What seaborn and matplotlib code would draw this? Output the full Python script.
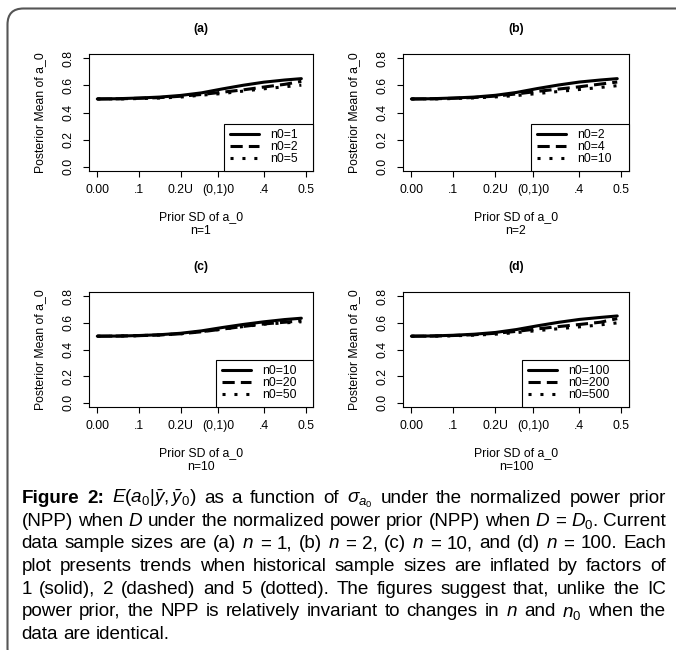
import matplotlib
matplotlib.use("Agg")
import matplotlib.pyplot as plt
import numpy as np
import pandas as pd
import seaborn as sns
from matplotlib.patches import FancyBboxPatch
from matplotlib.transforms import IdentityTransform

# ---------------- data ----------------
prior_sd = [0.00, 0.05, 0.10, 0.15, 0.20, 0.25, 0.30, 0.35, 0.40, 0.45, 0.49]

a_n0_1 = [0.500, 0.502, 0.507, 0.514, 0.526, 0.545, 0.574, 0.601, 0.624, 0.640, 0.650]
a_n0_2 = [0.500, 0.501, 0.505, 0.510, 0.520, 0.533, 0.550, 0.567, 0.588, 0.608, 0.630]
a_n0_5 = [0.500, 0.500, 0.503, 0.507, 0.514, 0.528, 0.540, 0.558, 0.575, 0.590, 0.602]

b_n0_2 = [0.500, 0.502, 0.507, 0.514, 0.527, 0.548, 0.577, 0.603, 0.625, 0.640, 0.650]
b_n0_4 = [0.500, 0.501, 0.505, 0.511, 0.521, 0.537, 0.556, 0.573, 0.590, 0.610, 0.625]
b_n0_10 = [0.500, 0.500, 0.503, 0.508, 0.515, 0.525, 0.540, 0.555, 0.570, 0.585, 0.598]

c_n0_10 = [0.500, 0.501, 0.505, 0.511, 0.522, 0.540, 0.565, 0.588, 0.608, 0.625, 0.635]
c_n0_20 = [0.500, 0.501, 0.504, 0.509, 0.518, 0.533, 0.553, 0.573, 0.592, 0.605, 0.615]
c_n0_50 = [0.500, 0.501, 0.504, 0.509, 0.518, 0.534, 0.553, 0.572, 0.590, 0.600, 0.608]

d_n0_100 = [0.500, 0.502, 0.507, 0.515, 0.528, 0.550, 0.578, 0.604, 0.626, 0.641, 0.652]
d_n0_200 = [0.500, 0.501, 0.505, 0.511, 0.522, 0.536, 0.555, 0.572, 0.588, 0.605, 0.632]
d_n0_500 = [0.500, 0.500, 0.503, 0.508, 0.515, 0.527, 0.542, 0.556, 0.570, 0.585, 0.600]

panel_titles = ["(a)", "(b)", "(c)", "(d)"]
current_n = ["n=1", "n=2", "n=10", "n=100"]
legend_labels = [["n0=1", "n0=2", "n0=5"],
                 ["n0=2", "n0=4", "n0=10"],
                 ["n0=10", "n0=20", "n0=50"],
                 ["n0=100", "n0=200", "n0=500"]]
series = [[a_n0_1, a_n0_2, a_n0_5],
          [b_n0_2, b_n0_4, b_n0_10],
          [c_n0_10, c_n0_20, c_n0_50],
          [d_n0_100, d_n0_200, d_n0_500]]

x_ticks = [0.0, 0.1, 0.2, 0.29, 0.4, 0.5]
x_tick_labels = ["0.00", ".1", "0.2U", "(0,1)0", ".4", "0.5"]
y_ticks = [0.0, 0.2, 0.4, 0.6, 0.8]
y_tick_labels = ["0.0", "0.2", "0.4", "0.6", "0.8"]
x_label = "Prior SD of a_0"
y_label = "Posterior Mean of a_0"

caption_lines = [
    r"Figure 2: $E(a_0|\bar{y},\bar{y}_0)$ as a function of $\sigma_{a_0}$ under the normalized power prior",
    r"(NPP) when $D$ under the normalized power prior (NPP) when $D$ = $D_0$. Current",
    r"data sample sizes are (a) $n$ = 1, (b) $n$ = 2, (c) $n$ = 10, and (d) $n$ = 100. Each",
    r"plot presents trends when historical sample sizes are inflated by factors of",
    r"1 (solid), 2 (dashed) and 5 (dotted). The figures suggest that, unlike the IC",
    r"power prior, the NPP is relatively invariant to changes in $n$ and $n_0$ when the",
    r"data are identical.",
]

# ---------------- style ----------------
sns.set_style("ticks")
plt.rcParams["font.family"] = ["Liberation Sans", "DejaVu Sans"]
plt.rcParams["mathtext.fontset"] = "custom"
plt.rcParams["mathtext.rm"] = "Liberation Sans"
plt.rcParams["mathtext.it"] = "Liberation Sans:italic"
plt.rcParams["mathtext.bf"] = "Liberation Sans:bold"
plt.rcParams["axes.edgecolor"] = "black"
plt.rcParams["axes.linewidth"] = 0.8
plt.rcParams["xtick.color"] = "black"
plt.rcParams["ytick.color"] = "black"
plt.rcParams["text.color"] = "black"
plt.rcParams["axes.labelcolor"] = "black"

W, H = 676, 650
fig = plt.figure(figsize=(W / 100, H / 100), dpi=100)
fig.patch.set_facecolor("white")

boxes = [(89, 54, 313, 171), (403, 54, 629, 171), (89, 292, 313, 407), (403, 292, 629, 407)]
legend_left = [224, 531, 216, 522]
FS = 8.8
dash_styles = ["", (4, 2), (1, 2.9)]

for i, (x0, y0, x1, y1) in enumerate(boxes):
    wpx, hpx = x1 - x0, y1 - y0
    ax = fig.add_axes([x0 / W, 1 - y1 / H, wpx / W, hpx / H])
    labs = legend_labels[i]
    df = pd.DataFrame({
        "sd": np.tile(prior_sd, 3),
        "mean": np.concatenate(series[i]),
        "n0": np.repeat(labs, len(prior_sd)),
    })
    sns.lineplot(data=df, x="sd", y="mean", style="n0", style_order=labs,
                 dashes={l: d for l, d in zip(labs, dash_styles)},
                 color="black", linewidth=2.2, estimator=None, legend=False, ax=ax)
    ax.set_xlim(-0.02, 0.518)
    ax.set_ylim(-0.032, 0.832)
    ax.set_xticks(x_ticks, x_tick_labels)
    ax.set_yticks(y_ticks, y_tick_labels)
    ax.tick_params(axis="both", direction="out", length=4.5, width=0.8, labelsize=FS)
    ax.tick_params(axis="x", pad=5.0)
    ax.tick_params(axis="y", pad=6.0)
    plt.setp(ax.get_yticklabels(), rotation=90, va="center", ha="right")
    for sp in ax.spines.values():
        sp.set_visible(True)
        sp.set_linewidth(0.8)
        sp.set_color("black")

    ax.set_title(panel_titles[i], fontsize=FS, fontweight="bold", pad=16)
    ax.set_xlabel(x_label, fontsize=FS, va="center")
    ax.xaxis.set_label_coords(0.5, -46 / hpx)
    ax.text(0.5, -60 / hpx, current_n[i], transform=ax.transAxes,
            ha="center", va="center", fontsize=FS)
    ax.set_ylabel(y_label, fontsize=FS, va="center")
    ax.yaxis.set_label_coords(-49 / wpx, 0.5)

    lf = (legend_left[i] - x0) / wpx
    leg = ax.legend(ax.get_lines()[:3], labs, loc="lower left",
                    bbox_to_anchor=(lf, 0, 1 - lf, 0.4), mode="expand",
                    borderaxespad=0, frameon=True, fancybox=False,
                    edgecolor="black", framealpha=1, fontsize=FS,
                    handlelength=2.4, handletextpad=0.9,
                    labelspacing=0.02, borderpad=0.45)
    leg.get_frame().set_linewidth(0.8)

# ---------------- frame ----------------
frame = FancyBboxPatch((7.5, -14), 700, 650 - 8.5 + 14,
                       boxstyle="round,pad=0,rounding_size=16",
                       transform=IdentityTransform(), facecolor="none",
                       edgecolor="#555555", linewidth=1.5)
fig.add_artist(frame)

# ---------------- caption (justified) ----------------
renderer = fig.canvas.get_renderer()
CAP_FS = 13.6
left, right = 21.5, 666
base0, step = 650 - 503, 22.7
for li, line in enumerate(caption_lines):
    tokens = line.split(" ")
    texts = []
    for ti, tok in enumerate(tokens):
        bold = (li == 0 and ti < 2)
        t = fig.text(0, 0, tok, transform=IdentityTransform(), fontsize=CAP_FS,
                     fontweight="bold" if bold else "normal", va="baseline", ha="left",
                     color="black")
        texts.append(t)
    widths = [t.get_window_extent(renderer).width for t in texts]
    y = base0 - li * step
    if li == len(caption_lines) - 1:
        gap = CAP_FS * 100 / 72 * 0.278
    else:
        gap = (right - left - sum(widths)) / (len(texts) - 1)
    x = left
    for t, w in zip(texts, widths):
        t.set_position((x, y))
        x += w + gap

fig.savefig("out.png", dpi=100)
